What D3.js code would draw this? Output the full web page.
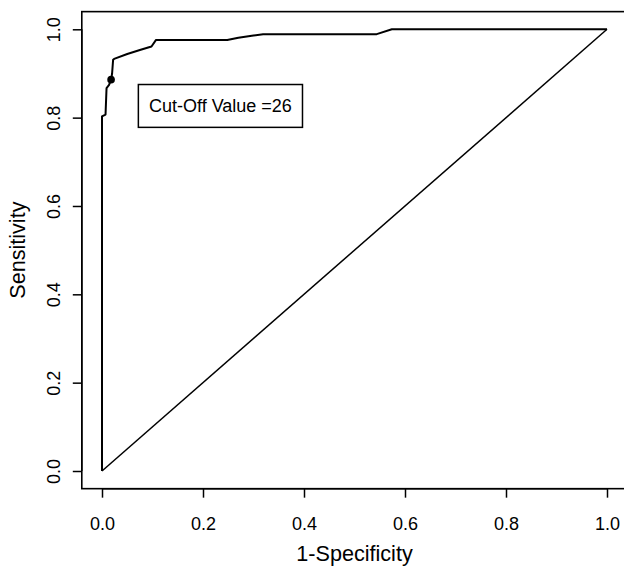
<!DOCTYPE html>
<html>
<head>
<meta charset="utf-8">
<script src="https://cdn.jsdelivr.net/npm/d3@7"></script>
<style>
  body { margin: 0; background: #fff; }
  svg { display: block; font-family: "Liberation Sans", Arial, sans-serif; }
</style>
</head>
<body>
<svg id="chart"></svg>
<script>
// ROC curve
const fpr = [0, 0, 0.007, 0.009, 0.014, 0.018, 0.020, 0.022, 0.024, 0.05, 0.075, 0.098, 0.107, 0.248, 0.27, 0.30, 0.319, 0.544, 0.574, 1.0];
const tpr = [0, 0.803, 0.807, 0.867, 0.874, 0.886, 0.90, 0.931, 0.933, 0.944, 0.953, 0.961, 0.976, 0.976, 0.981, 0.986, 0.989, 0.989, 1.0, 1.0];
const diagX = [0, 1];
const diagY = [0, 1];
const cutPoint = [0.018, 0.886];
const cutLabel = "Cut-Off Value =26";
const labelBox = { x0: 0.072, x1: 0.397, y0: 0.778, y1: 0.875 };
const xTicks = [0, 0.2, 0.4, 0.6, 0.8, 1.0];
const yTicks = [0, 0.2, 0.4, 0.6, 0.8, 1.0];
const xTitle = "1-Specificity";
const yTitle = "Sensitivity";

const width = 624, height = 567;

const svg = d3.select("#chart")
    .attr("width", width)
    .attr("height", height);

// scales (R style, 4% padding around the data range)
const x = d3.scaleLinear().domain([0, 1]).range([102, 607]);
const y = d3.scaleLinear().domain([0, 1]).range([471, 29.3]);

const boxLeft = x(-0.04), boxRight = x(1.04);
const boxTop = y(1.04), boxBottom = y(-0.04);

// plot frame
svg.append("rect")
    .attr("x", boxLeft)
    .attr("y", boxTop)
    .attr("width", boxRight - boxLeft)
    .attr("height", boxBottom - boxTop)
    .attr("fill", "none")
    .attr("stroke", "#000")
    .attr("stroke-width", 1.6);

// x axis
const xAxis = svg.append("g")
    .attr("transform", `translate(0,${boxBottom})`)
    .call(d3.axisBottom(x).tickValues(xTicks).tickFormat(d3.format(".1f"))
        .tickSize(9).tickPadding(20));
xAxis.select(".domain")
    .attr("d", `M${x(0)},0H${x(1)}`)
    .attr("stroke-width", 1.5);
xAxis.selectAll(".tick line").attr("stroke-width", 1.5);
xAxis.selectAll(".tick text")
    .attr("font-size", 18)
    .attr("font-family", "Liberation Sans, Arial, sans-serif")
    .attr("fill", "#000");

// y axis, labels turned like R's las=0
const yAxis = svg.append("g")
    .attr("transform", `translate(${boxLeft},0)`)
    .call(d3.axisLeft(y).tickValues(yTicks).tickFormat(d3.format(".1f"))
        .tickSize(9));
yAxis.select(".domain")
    .attr("d", `M0,${y(0)}V${y(1)}`)
    .attr("stroke-width", 1.5);
yAxis.selectAll(".tick line").attr("stroke-width", 1.5);
yAxis.selectAll(".tick text")
    .attr("x", 0)
    .attr("dy", null)
    .attr("y", -(boxLeft - 59.5))
    .attr("transform", "rotate(-90)")
    .attr("text-anchor", "middle")
    .attr("font-size", 18)
    .attr("font-family", "Liberation Sans, Arial, sans-serif")
    .attr("fill", "#000");

// axis titles
svg.append("text")
    .attr("x", (x(0) + x(1)) / 2)
    .attr("y", 561)
    .attr("text-anchor", "middle")
    .attr("font-size", 21.6)
    .text(xTitle);

svg.append("text")
    .attr("transform", `translate(25,${(y(0) + y(1)) / 2}) rotate(-90)`)
    .attr("text-anchor", "middle")
    .attr("font-size", 21.6)
    .text(yTitle);

// reference diagonal
const line = d3.line().x(d => x(d[0])).y(d => y(d[1]));
svg.append("path")
    .datum(d3.zip(diagX, diagY))
    .attr("d", line)
    .attr("fill", "none")
    .attr("stroke", "#000")
    .attr("stroke-width", 1.5);

// ROC curve
svg.append("path")
    .datum(d3.zip(fpr, tpr))
    .attr("d", line)
    .attr("fill", "none")
    .attr("stroke", "#000")
    .attr("stroke-width", 2)
    .attr("stroke-linejoin", "round");

// cut-off point
svg.append("circle")
    .attr("cx", x(cutPoint[0]))
    .attr("cy", y(cutPoint[1]))
    .attr("r", 3.8)
    .attr("fill", "#000");

// label box
svg.append("rect")
    .attr("x", x(labelBox.x0))
    .attr("y", y(labelBox.y1))
    .attr("width", x(labelBox.x1) - x(labelBox.x0))
    .attr("height", y(labelBox.y0) - y(labelBox.y1))
    .attr("fill", "#fff")
    .attr("stroke", "#000")
    .attr("stroke-width", 1.5);

svg.append("text")
    .attr("x", x((labelBox.x0 + labelBox.x1) / 2))
    .attr("y", y((labelBox.y0 + labelBox.y1) / 2))
    .attr("dy", "0.35em")
    .attr("text-anchor", "middle")
    .attr("font-size", 18)
    .text(cutLabel);
</script>
</body>
</html>
